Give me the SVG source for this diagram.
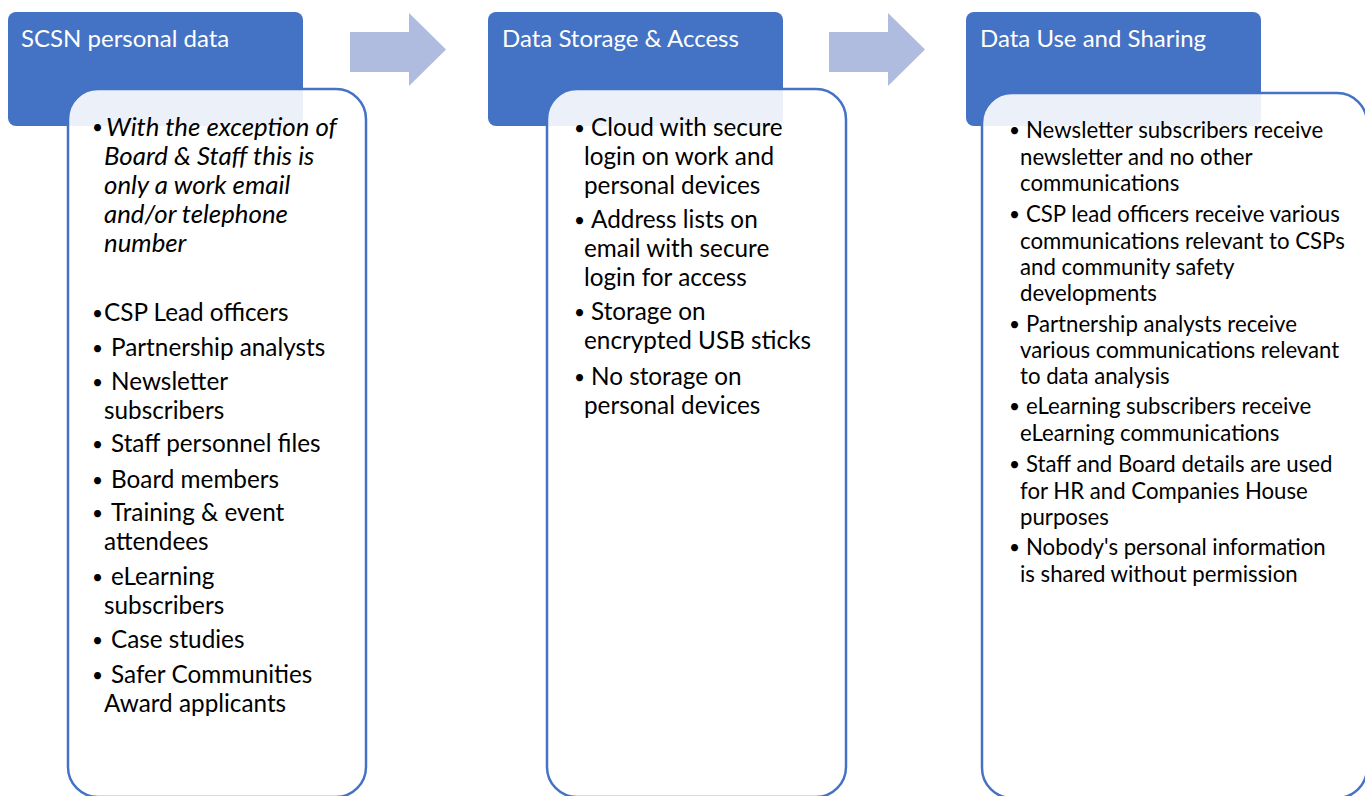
<svg xmlns="http://www.w3.org/2000/svg" width="1365" height="796" viewBox="0 0 1365 796">
  <style>
    .head { fill: #4472C4; }
    .panel { fill: #FFFFFF; fill-opacity: 0.9; stroke: #4472C4; stroke-width: 2.5; }
    .flow { fill: #AFBCDF; }
    .title { font-family: Lato, "Liberation Sans", sans-serif; font-size: 24px; fill: #FFFFFF; }
    .body { font-family: Lato, "Liberation Sans", sans-serif; font-size: 24.3px; fill: #000000; }
    .small { font-family: Lato, "Liberation Sans", sans-serif; font-size: 22.2px; fill: #000000; }
    .it { font-style: italic; font-size: 25.8px; }
    .dot { font-size: 19px; }
  </style>
  <rect width="1365" height="796" fill="#FFFFFF"/>

  <!-- flow arrows between stages -->
  <g id="connectors">
    <path class="flow" d="M350,32 H409 V13 L446,49.5 L409,86 V72 H350 Z"/>
    <path class="flow" d="M829,32 H888 V13 L925,49.5 L888,86 V72 H829 Z"/>
  </g>

  <!-- stage 1 -->
  <g id="stage-personal-data">
    <rect class="head" x="8" y="12" width="295" height="114" rx="8"/>
    <text class="title" x="21" y="47">SCSN personal data</text>
    <rect class="panel" x="68" y="89" width="298" height="708" rx="30"/>
    <g class="body">
      <text class="dot" x="92" y="134">•</text><text class="it" x="106" y="136">With the exception of</text>
      <text class="it" x="104" y="165">Board &amp; Staff this is</text>
      <text class="it" x="104" y="194">only a work email</text>
      <text class="it" x="104" y="223">and/or telephone</text>
      <text class="it" x="104" y="252">number</text>
      <text class="dot" x="92" y="320">•</text><text x="104" y="321">CSP Lead officers</text>
      <text class="dot" x="92" y="355">•</text><text x="111" y="356">Partnership analysts</text>
      <text class="dot" x="92" y="389">•</text><text x="111" y="390">Newsletter</text>
      <text x="104" y="419">subscribers</text>
      <text class="dot" x="92" y="451">•</text><text x="111" y="452">Staff personnel files</text>
      <text class="dot" x="92" y="487">•</text><text x="111" y="488">Board members</text>
      <text class="dot" x="92" y="520">•</text><text x="111" y="521">Training &amp; event</text>
      <text x="104" y="550">attendees</text>
      <text class="dot" x="92" y="584">•</text><text x="111" y="585">eLearning</text>
      <text x="104" y="614">subscribers</text>
      <text class="dot" x="92" y="647">•</text><text x="111" y="648">Case studies</text>
      <text class="dot" x="92" y="682">•</text><text x="111" y="683">Safer Communities</text>
      <text x="104" y="712">Award applicants</text>
    </g>
  </g>

  <!-- stage 2 -->
  <g id="stage-storage-access">
    <rect class="head" x="488" y="12" width="295" height="114" rx="8"/>
    <text class="title" x="502" y="47">Data Storage &amp; Access</text>
    <rect class="panel" x="547" y="89" width="299" height="708" rx="30"/>
    <g class="body">
      <text class="dot" x="574" y="135">•</text><text x="591" y="136">Cloud with secure</text>
      <text x="584" y="165">login on work and</text>
      <text x="584" y="194">personal devices</text>
      <text class="dot" x="574" y="227">•</text><text x="591" y="228">Address lists on</text>
      <text x="584" y="257">email with secure</text>
      <text x="584" y="286">login for access</text>
      <text class="dot" x="574" y="319">•</text><text x="591" y="320">Storage on</text>
      <text x="584" y="349">encrypted USB sticks</text>
      <text class="dot" x="574" y="384">•</text><text x="591" y="385">No storage on</text>
      <text x="584" y="414">personal devices</text>
    </g>
  </g>

  <!-- stage 3 -->
  <g id="stage-use-sharing">
    <rect class="head" x="966" y="12" width="295" height="114" rx="8"/>
    <text class="title" x="980" y="47">Data Use and Sharing</text>
    <rect class="panel" x="982" y="93" width="385" height="705" rx="30"/>
    <g class="small">
      <text class="dot" x="1009" y="137">•</text><text x="1026" y="138">Newsletter subscribers receive</text>
      <text x="1020" y="165">newsletter and no other</text>
      <text x="1020" y="191">communications</text>
      <text class="dot" x="1009" y="221">•</text><text x="1026" y="222">CSP lead officers receive various</text>
      <text x="1020" y="249">communications relevant to CSPs</text>
      <text x="1020" y="275">and community safety</text>
      <text x="1020" y="301">developments</text>
      <text class="dot" x="1009" y="331">•</text><text x="1026" y="332">Partnership analysts receive</text>
      <text x="1020" y="358">various communications relevant</text>
      <text x="1020" y="384">to data analysis</text>
      <text class="dot" x="1009" y="413">•</text><text x="1026" y="414">eLearning subscribers receive</text>
      <text x="1020" y="441">eLearning communications</text>
      <text class="dot" x="1009" y="471">•</text><text x="1026" y="472">Staff and Board details are used</text>
      <text x="1020" y="499">for HR and Companies House</text>
      <text x="1020" y="525">purposes</text>
      <text class="dot" x="1009" y="554">•</text><text x="1026" y="555">Nobody's personal information</text>
      <text x="1020" y="582">is shared without permission</text>
    </g>
  </g>
</svg>
